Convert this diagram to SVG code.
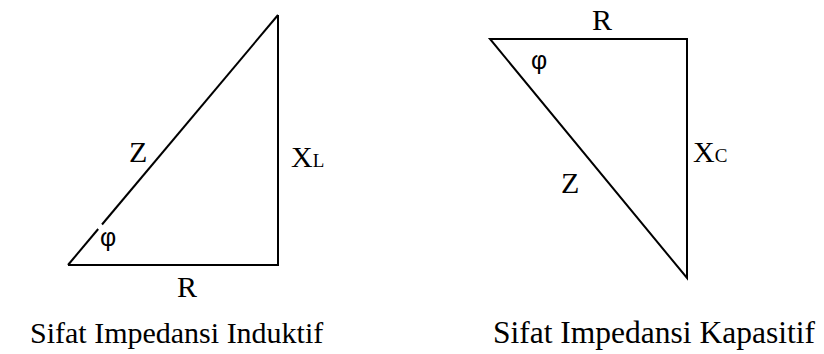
<svg xmlns="http://www.w3.org/2000/svg" width="824" height="354" viewBox="0 0 824 354">
<style>
.edge{stroke:#000;stroke-width:2;fill:none;stroke-linecap:butt;stroke-linejoin:miter}
.lbl{font-family:"Liberation Serif","Times New Roman",serif;font-size:30px;fill:#000}
.sub{font-family:"Liberation Serif","Times New Roman",serif;font-size:19px;fill:#000}
.phi{font-family:"Liberation Sans",Arial,sans-serif;font-size:25px;fill:#000}
.cap{font-family:"Liberation Serif","Times New Roman",serif;font-size:30px;fill:#000}
.cap2{font-family:"Liberation Serif","Times New Roman",serif;font-size:31.5px;fill:#000}
</style>
<rect width="824" height="354" fill="#fff"/>
<g id="connectors">
  <g id="inductive-edges">
    <path class="edge" d="M68,265 L278,265 L278,15"/>
    <path class="edge" d="M278,15 L102,224.5"/>
    <path class="edge" d="M98.2,229 L68,265"/>
  </g>
  <g id="capacitive-edges">
    <path class="edge" d="M490,39 L687,39 L687,278 Z"/>
  </g>
</g>
<g id="inductive">
  <text class="lbl" x="129" y="162">Z</text>
  <text class="lbl" x="291" y="167">X<tspan class="sub">L</tspan></text>
  <text class="phi" x="100" y="246">φ</text>
  <text class="lbl" x="177" y="297">R</text>
  <text class="cap" x="30" y="343">Sifat Impedansi Induktif</text>
</g>
<g id="capacitive">
  <text class="lbl" x="592" y="30">R</text>
  <text class="phi" x="531" y="69">φ</text>
  <text class="lbl" x="693" y="162">X<tspan class="sub">C</tspan></text>
  <text class="lbl" x="561" y="193">Z</text>
  <text class="cap2" x="493" y="343">Sifat Impedansi Kapasitif</text>
</g>
</svg>
